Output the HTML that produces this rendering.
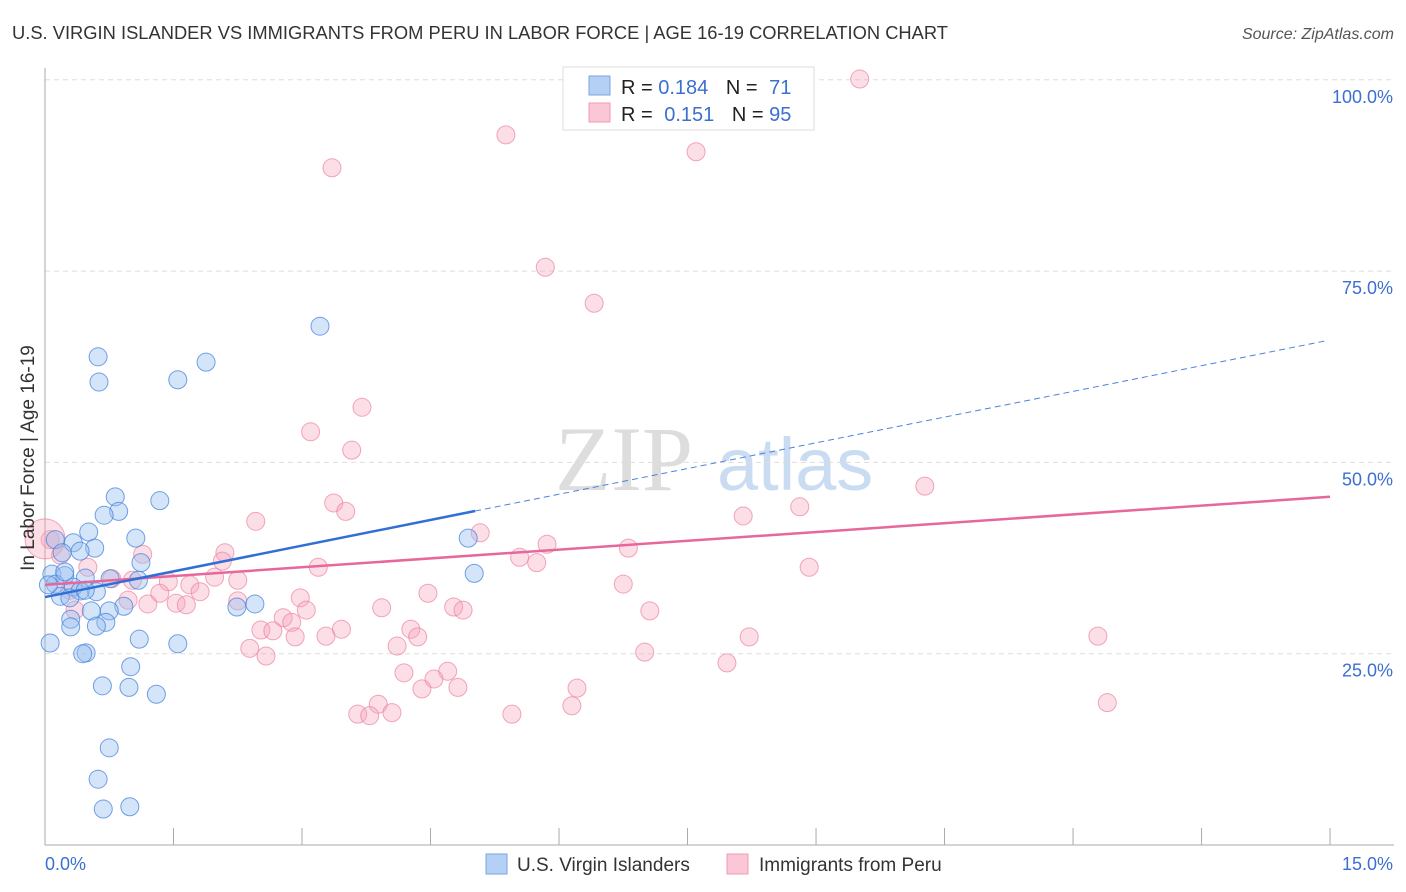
<!DOCTYPE html>
<html><head><meta charset="utf-8"><style>
body{margin:0;background:#fff;font-family:"Liberation Sans",sans-serif;}
#c{position:relative;width:1406px;height:892px;overflow:hidden;}
</style></head><body>
<div id="c">
<svg id="s" width="1406" height="892" xmlns="http://www.w3.org/2000/svg">
<text x="12" y="39" font-size="18" fill="#333" textLength="936" lengthAdjust="spacingAndGlyphs">U.S. VIRGIN ISLANDER VS IMMIGRANTS FROM PERU IN LABOR FORCE | AGE 16-19 CORRELATION CHART</text>
<text x="1394" y="39" font-size="16" fill="#555" font-style="italic" text-anchor="end">Source: ZipAtlas.com</text>
<g>
<text x="555" y="490" font-size="92" fill="#ddd" font-family="Liberation Serif,serif">ZIP</text>
<text x="717" y="490" font-size="74" fill="#c9dcf2">atlas</text>
</g>
<g id="grid"></g>
<g id="axes"></g>
<g id="pts"></g>
<g id="lines"></g>
<text x="34" y="458" font-size="19" fill="#333" transform="rotate(-90 34 458)" text-anchor="middle">In Labor Force | Age 16-19</text>
<g>
<rect x="563" y="67" width="251" height="63" fill="#fff" stroke="#ddd"/>
<rect x="589" y="76" width="21" height="19" fill="#b5d0f5" stroke="#7aa5e0"/>
<rect x="589" y="103" width="21" height="19" fill="#fbc6d5" stroke="#f29ab4"/>
<text x="621" y="94" font-size="20" fill="#222">R = <tspan fill="#3b6fd0">0.184</tspan>  <tspan dx="12">N = </tspan><tspan fill="#3b6fd0" dx="6">71</tspan></text>
<text x="621" y="121" font-size="20" fill="#222">R = <tspan fill="#3b6fd0" dx="6">0.151</tspan>  <tspan dx="12">N = </tspan><tspan fill="#3b6fd0">95</tspan></text>
</g>
<g>
<rect x="486" y="854" width="21" height="20" fill="#b5d0f5" stroke="#7aa5e0"/>
<text x="517" y="871" font-size="19" fill="#333">U.S. Virgin Islanders</text>
<rect x="727" y="854" width="21" height="20" fill="#fbc6d5" stroke="#f29ab4"/>
<text x="759" y="871" font-size="19" fill="#333">Immigrants from Peru</text>
</g>
</svg>
</div>
<script>
const blueX=[3.21,0.62,0.63,1.55,1.88,0.82,1.34,0.86,0.69,0.51,1.06,4.94,0.12,0.33,0.58,0.20,0.41,1.12,0.08,0.23,0.47,0.76,1.09,0.12,0.33,0.60,0.41,0.18,0.92,0.54,2.45,2.24,0.75,0.30,0.71,0.60,0.30,1.10,1.55,0.06,0.48,0.44,1.00,0.67,0.98,1.30,0.75,0.62,0.68,0.99,5.01,0.29,0.23,0.47,0.04];
const blueY=[67.8,63.8,60.5,60.8,63.1,45.5,45.0,43.6,43.1,40.9,40.1,40.1,39.9,39.5,38.8,38.2,38.4,36.9,35.4,35.2,34.9,34.8,34.6,34.1,33.7,33.1,33.2,32.5,31.2,30.6,31.5,31.1,30.6,29.5,29.1,28.6,28.5,26.9,26.3,26.4,25.1,25.0,23.3,20.8,20.6,19.7,12.7,8.6,4.7,5.0,35.5,32.3,35.7,33.3,34.0];
const pinkX=[9.51,5.38,7.60,3.35,5.84,6.41,3.70,3.10,3.58,10.27,3.37,3.51,8.81,8.15,2.46,5.08,5.86,5.54,5.74,6.81,2.10,1.14,2.07,8.92,3.19,0.06,0.18,0.78,1.02,1.44,1.98,2.25,1.69,1.34,1.81,0.97,1.53,1.20,1.65,2.25,2.98,4.47,4.77,4.88,3.93,7.06,6.75,3.05,2.78,2.88,2.52,2.66,2.92,3.28,3.46,4.27,4.35,4.11,2.39,2.58,7.00,8.22,12.29,7.96,4.19,4.70,4.54,4.40,4.82,6.21,6.15,3.89,3.65,3.79,4.05,5.45,12.40,0.50,0.29,0.35,0.0];
const pinkY=[100.1,92.8,90.6,88.5,75.5,70.8,57.2,54.0,51.6,46.9,44.7,43.6,44.2,43.0,42.3,40.8,39.3,37.6,36.9,38.8,38.2,38.0,37.1,36.3,36.3,39.9,37.9,34.8,34.6,34.4,35.0,34.6,34.0,32.9,33.1,32.0,31.6,31.5,31.4,31.9,32.3,32.9,31.1,30.7,31.0,30.6,34.1,30.7,29.7,29.1,28.1,28.0,27.2,27.3,28.2,28.2,27.2,26.0,25.7,24.7,25.2,27.2,27.3,23.8,22.5,22.7,21.7,20.4,20.6,20.5,18.2,18.4,17.1,16.9,17.3,17.1,18.6,36.3,33.3,30.7,40.0];
const pinkR=pinkX.map((_,i)=>i===pinkX.length-1?20:9);
const yTicks=[25,50,75,100];
const yTickLabels=["25.0%","50.0%","75.0%","100.0%"];
const xTicks=[0,1.5,3,4.5,6,7.5,9,10.5,12,13.5,15];
const xEndLabels=["0.0%","15.0%"];
const blueTrend=[32.4,2.24,5.02];
const pinkTrend=[34.0,0.767];
const NS="http://www.w3.org/2000/svg";
const X=v=>45+v*85.67, Y=v=>845-v*7.652;
function mk(tag,parent,attrs){const e=document.createElementNS(NS,tag);for(const k in attrs)e.setAttribute(k,attrs[k]);document.getElementById(parent).appendChild(e);return e;}
yTicks.forEach((t,i)=>{
 const l=mk('line','grid',{x1:45,x2:1394,y1:Y(t),y2:Y(t),stroke:'#ddd','stroke-dasharray':'5,4'});
 
 
 const tx=mk('text','axes',{x:1393,y:Y(t)+23,'font-size':18,fill:'#3b6fd0','text-anchor':'end'});
 tx.textContent=yTickLabels[i];
 
 
});
const ax=mk('line','axes',{x1:45,x2:45,y1:68,y2:845,stroke:'#aaa'});


const bx=mk('line','axes',{x1:45,x2:1394,y1:845,y2:845,stroke:'#aaa'});


xTicks.forEach(t=>{
 const l=mk('line','axes',{x1:X(t),x2:X(t),y1:828,y2:845,stroke:'#aaa'});
 
 
});
const xl0=mk('text','axes',{x:45,y:870,'font-size':18,fill:'#3b6fd0'});xl0.textContent=xEndLabels[0];


const xl1=mk('text','axes',{x:1393,y:870,'font-size':18,fill:'#3b6fd0','text-anchor':'end'});xl1.textContent=xEndLabels[1];


pinkX.forEach((v,i)=>{
 const c=mk('circle','pts',{cx:X(v),cy:Y(pinkY[i]),r:pinkR[i],fill:'rgba(246,160,185,0.35)',stroke:'rgba(236,130,160,0.7)','stroke-width':1});
 
 
});
blueX.forEach((v,i)=>{
 const c=mk('circle','pts',{cx:X(v),cy:Y(blueY[i]),r:9,fill:'rgba(150,190,240,0.4)',stroke:'rgba(70,130,220,0.75)','stroke-width':1});
 
 
});
const pl=mk('line','lines',{x1:X(0),y1:Y(pinkTrend[0]),x2:X(15),y2:Y(pinkTrend[0]+pinkTrend[1]*15),stroke:'#e8679a','stroke-width':2.5});


const bl=mk('line','lines',{x1:X(0),y1:Y(blueTrend[0]),x2:X(blueTrend[2]),y2:Y(blueTrend[0]+blueTrend[1]*blueTrend[2]),stroke:'#2f6fd6','stroke-width':2.5});


const bd=mk('line','lines',{x1:X(blueTrend[2]),y1:Y(blueTrend[0]+blueTrend[1]*blueTrend[2]),x2:X(14.95),y2:Y(blueTrend[0]+blueTrend[1]*14.95),stroke:'#4a82dd','stroke-width':1,'stroke-dasharray':'6,4'});


</script>
</body></html>
